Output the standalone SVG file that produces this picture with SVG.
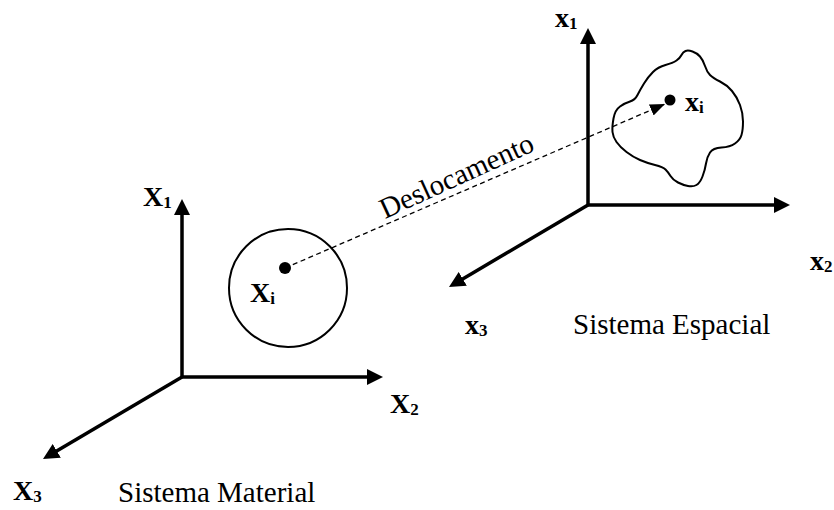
<svg xmlns="http://www.w3.org/2000/svg" width="834" height="510" viewBox="0 0 834 510">
<style>
  .axis { fill: none; stroke: #000; stroke-width: 3.5; stroke-linejoin: miter; }
  .shape { fill: none; stroke: #000; stroke-width: 2; }
  .dash { fill: none; stroke: #000; stroke-width: 1.3; stroke-dasharray: 5 3.5; }
  .lbl { font-family: "Liberation Serif", "Times New Roman", serif; font-weight: bold; font-size: 28px; fill: #000; }
  .sub { font-size: 17px; }
  .txt { font-family: "Liberation Serif", "Times New Roman", serif; font-size: 29px; fill: #000; }
</style>
<defs>
  <marker id="ah" markerUnits="userSpaceOnUse" viewBox="0 0 16 16" refX="6" refY="8" markerWidth="16" markerHeight="16" orient="auto-start-reverse">
    <path d="M0,0 L16,8 L0,16 Z" fill="#000"/>
  </marker>
  <marker id="ahs" markerUnits="userSpaceOnUse" viewBox="0 0 15 12" refX="15" refY="6" markerWidth="15" markerHeight="12" orient="auto">
    <path d="M0,0 L15,6 L0,12 Z" fill="#000"/>
  </marker>
</defs>

<g id="material-axes">
  <path class="axis" d="M182,209 L182,377 L373,377" marker-start="url(#ah)" marker-end="url(#ah)"/>
  <line class="axis" x1="182" y1="377" x2="51.6" y2="453.9" marker-end="url(#ah)"/>
  <text class="lbl" x="143" y="206">X<tspan class="sub" dy="2">1</tspan></text>
  <text class="lbl" x="390" y="413">X<tspan class="sub" dy="2">2</tspan></text>
  <text class="lbl" x="13" y="500">X<tspan class="sub" dy="2">3</tspan></text>
  <text class="txt" x="118" y="502">Sistema Material</text>
</g>

<g id="material-body">
  <circle class="shape" cx="288" cy="288" r="59"/>
  <circle cx="285" cy="268" r="6" fill="#000"/>
  <text class="lbl" x="250" y="302">X<tspan class="sub" dy="2">i</tspan></text>
</g>

<g id="spatial-axes">
  <path class="axis" d="M588,38 L588,205 L780,205" marker-start="url(#ah)" marker-end="url(#ah)"/>
  <line class="axis" x1="588" y1="205" x2="457.6" y2="281.9" marker-end="url(#ah)"/>
  <text class="lbl" x="555" y="27">x<tspan class="sub" dy="2">1</tspan></text>
  <text class="lbl" x="810" y="270">x<tspan class="sub" dy="2">2</tspan></text>
  <text class="lbl" x="465" y="334">x<tspan class="sub" dy="2">3</tspan></text>
  <text class="txt" x="573" y="334">Sistema Espacial</text>
</g>

<g id="spatial-body">
  <path class="shape" d="M612.5,132 Q612,127 613.5,118.5 Q615,110 620,106.5 Q625,103 630,101.5 Q635,100 637.5,95 Q640,90 644,83.5 Q648,77 653,72 Q658,67 665.5,65 Q673,63 676.5,60.5 Q680,58 681.5,55 Q683,52 685.5,51 Q688,50 692.5,51.5 Q697,53 700,56.5 Q703,60 705,66 Q707,72 710,75 Q713,78 720,81.5 Q727,85 732,91 Q737,97 740,105 Q743,113 743,121.5 Q743,130 741.5,135 Q740,140 735,143.5 Q730,147 721.5,147.5 Q713,148 710,152.5 Q707,157 706,163.5 Q705,170 702.5,176.5 Q700,183 696.5,185 Q693,187 688,186 Q683,185 678,182.5 Q673,180 670.5,176 Q668,172 665.5,169.5 Q663,167 655,165 Q647,163 640,160 Q633,157 626.5,152 Q620,147 616.5,142 Q613,137 612.5,132 Z"/>
  <circle cx="670" cy="100" r="5.5" fill="#000"/>
  <text class="lbl" x="685" y="111">x<tspan class="sub" dy="2">i</tspan></text>
</g>

<g id="connectors">
  <line class="dash" x1="285" y1="268" x2="665" y2="104" marker-end="url(#ahs)"/>
  <text class="txt" transform="translate(385,219) rotate(-24.5)">Deslocamento</text>
</g>
</svg>
